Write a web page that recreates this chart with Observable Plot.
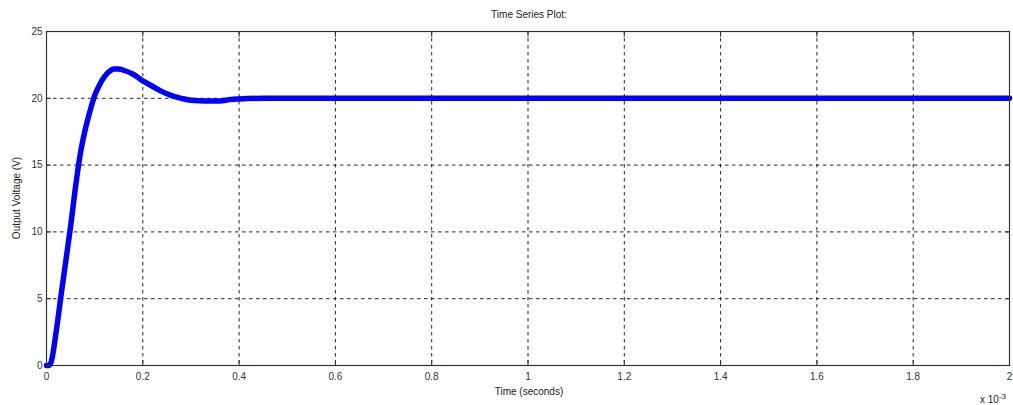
<!DOCTYPE html>
<html>
<head>
<meta charset="utf-8">
<script src="https://cdn.jsdelivr.net/npm/d3@7"></script>
<script src="https://cdn.jsdelivr.net/npm/@observablehq/plot@0.6"></script>
<style>
  html, body { margin: 0; padding: 0; background: #fff; }
  #chart { position: relative; width: 1013px; height: 405px; }
  .lbl { position: absolute; font-family: "Liberation Sans", Arial, sans-serif; color: #222; white-space: nowrap; }
</style>
</head>
<body>
<div id="chart"></div>
<script>
// Time in units of 1e-3 seconds, voltage in V
const timeMs = [0, 0.005, 0.01, 0.02, 0.03, 0.04, 0.05, 0.06, 0.07, 0.08, 0.09, 0.10, 0.11, 0.12, 0.13, 0.14, 0.15, 0.16, 0.18, 0.20, 0.22, 0.24, 0.26, 0.28, 0.30, 0.33, 0.36, 0.38, 0.40, 0.45, 0.5, 0.6, 0.8, 1.0, 1.2, 1.4, 1.6, 1.8, 2.0];
const voltage = [0, 0, 0.3, 2.5, 5.2, 7.8, 10.4, 13.3, 15.8, 17.6, 19.0, 20.2, 21.0, 21.6, 22.0, 22.2, 22.2, 22.1, 21.8, 21.3, 20.9, 20.5, 20.2, 20.0, 19.85, 19.8, 19.8, 19.9, 19.95, 20, 20, 20, 20, 20, 20, 20, 20, 20, 20];
const xTicks = [0, 0.2, 0.4, 0.6, 0.8, 1, 1.2, 1.4, 1.6, 1.8, 2];
const yTicks = [0, 5, 10, 15, 20, 25];
const title = "Time Series Plot:";
const xLabel = "Time (seconds)";
const yLabel = "Output Voltage (V)";

const data = timeMs.map((t, i) => ({t, v: voltage[i]}));

const plot = Plot.plot({
  width: 1013,
  height: 405,
  marginLeft: 46,
  marginRight: 4,
  marginTop: 31,
  marginBottom: 40,
  style: {fontFamily: "Liberation Sans, Arial, sans-serif", fontSize: "10px", color: "#333", background: "#fff"},
  x: {domain: [0, 2]},
  y: {domain: [0, 25]},
  marks: [
    Plot.gridX(xTicks, {stroke: "#000", strokeOpacity: 0.85, strokeDasharray: "3.5,3.5"}),
    Plot.gridY(yTicks, {stroke: "#000", strokeOpacity: 0.85, strokeDasharray: "3.5,3.5"}),
    Plot.axisX(xTicks, {anchor: "bottom", tickSize: -5, tickPadding: 12, label: null, tickFormat: d => String(d), stroke: "#333", fill: "#333"}),
    Plot.axisX(xTicks, {anchor: "top", tickSize: -5, label: null, tickFormat: () => "", stroke: "#333"}),
    Plot.axisY(yTicks, {anchor: "left", tickSize: -5, tickPadding: 9, label: null, tickFormat: d => String(d), stroke: "#333", fill: "#333"}),
    Plot.axisY(yTicks, {anchor: "right", tickSize: -5, label: null, tickFormat: () => "", stroke: "#333"}),
    Plot.line(data, {x: "t", y: "v", stroke: "#0000ff", strokeWidth: 5.5, curve: "monotone-x"}),
    Plot.frame({stroke: "#333", strokeWidth: 1.2})
  ]
});

const chart = document.getElementById("chart");
chart.appendChild(plot);

function addLabel(text, css) {
  const d = document.createElement("div");
  d.className = "lbl";
  d.textContent = text;
  Object.assign(d.style, css);
  chart.appendChild(d);
  return d;
}
addLabel(title, {left: "529px", top: "9px", transform: "translateX(-50%)", fontSize: "10px"});
addLabel(xLabel, {left: "529px", top: "386px", transform: "translateX(-50%)", fontSize: "10px"});
addLabel(yLabel, {left: "16px", top: "198px", transform: "translate(-50%, -50%) rotate(-90deg)", fontSize: "10px"});
const sci = addLabel("x 10", {left: "980px", top: "392px", fontSize: "10px"});
const sup = document.createElement("sup");
sup.textContent = "-3";
sup.style.fontSize = "8px";
sci.appendChild(sup);
</script>
</body>
</html>
